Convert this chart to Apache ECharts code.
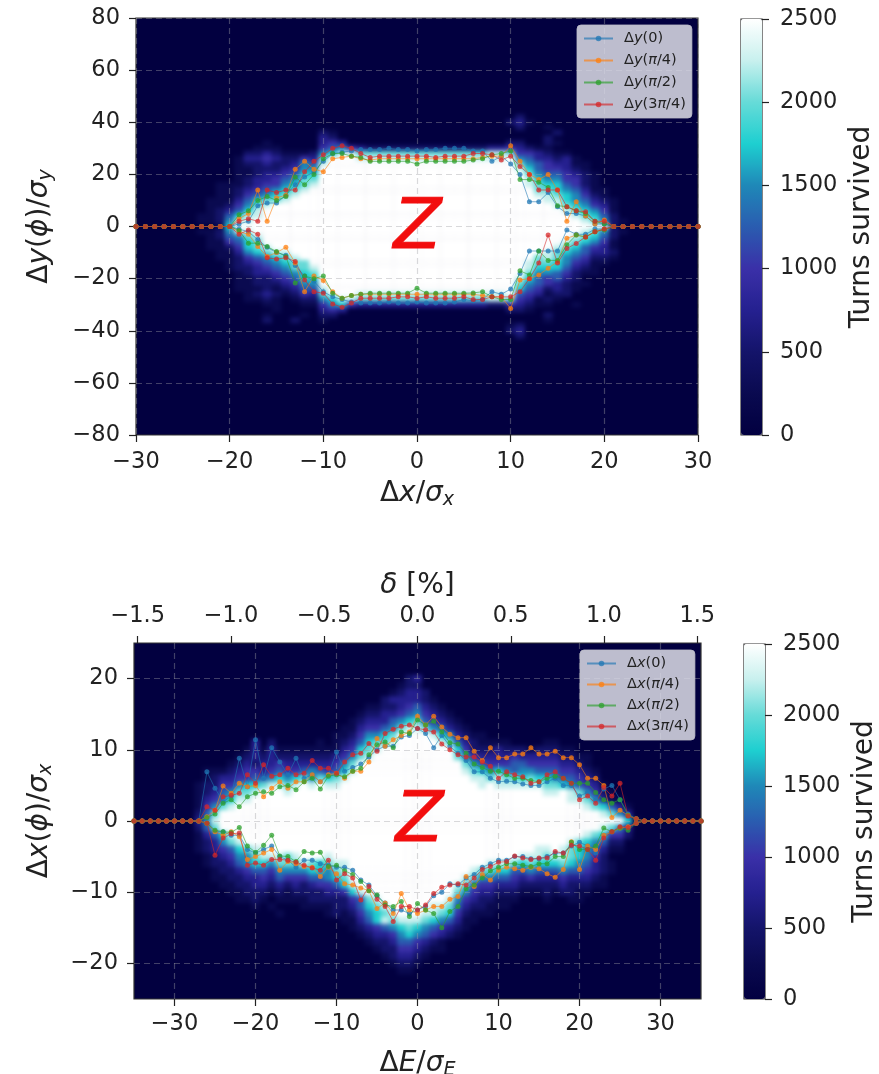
<!DOCTYPE html>
<html>
<head>
<meta charset="utf-8">
<title>Turns survived</title>
<script src="https://cdn.jsdelivr.net/npm/echarts@6/dist/echarts.min.js"></script>
<style>
  html, body { margin: 0; padding: 0; background: #fff; }
  #wrap { position: relative; width: 879px; height: 1074px; overflow: hidden; }
  #heat, #chart { position: absolute; left: 0; top: 0; width: 879px; height: 1074px; }
  /* imshow was interpolated, so the cells get blurred and cut back to the two plot boxes */
  #heat { filter: blur(2px); clip-path: path('M136 18H698V435H136Z M134 643H701V999H134Z'); }
</style>
</head>
<body>
<div id="wrap">
  <div id="heat"></div>
  <div id="chart"></div>
</div>
<script>
// colour scale, one stop every 250 turns
const turnColors = ['#020040', '#0a0a50', '#14146a', '#252090', '#3a30a8', '#2a5cb0', '#1f88b8', '#1ecfd0', '#66dbd8', '#c8f0ee', '#ffffff'];

// top panel: aperture lines, x = -30..30
const dyUp0 = [0,0,0,0,0,0,0,0,0,0, 0,1,2,8,9,9,12,16,19,21,25,28,28.5,29,29.5,29.5,29.5,30,29.5,29.5,29,29.5,29.5,30,30,30,29,29,25,27,24,20,9.5,9.5,13,7.6,5,5,4,1,1, 0,0,0,0,0,0,0,0,0,0];
const dyUp1 = [0,0,0,0,0,0,0,0,0,0, 0,3,5,14,2,11,12,22,25,22,21,26,26.5,27,26,25.5,26,26,26,26,26,26,26,26,26,26,26,26.5,27,27,31,25,20,18,20,14,2,9.5,4,1,2.5, 0,0,0,0,0,0,0,0,0,0];
const dyUp2 = [0,0,0,0,0,0,0,0,0,0, 0,4.5,6,10,11.5,10,11.5,19,16,20,26,28,28,27,26.5,25,25,25,25,25,24,25,25,25,25,25,25.5,26,27.5,28,29,18,18,17,15,8,7.6,6,5,2,1, 0,0,0,0,0,0,0,0,0,0];
const dyUp3 = [0,0,0,0,0,0,0,0,0,0, 0,2,3,2,14,13,14,14,21,25,27.5,30,31,30,28,26.5,27,27,27,27,27,27,26.5,27,27,27,28,28,27.5,25.5,27,23,20,14,14,14,7.6,6,5.7,2,2, 0,0,0,0,0,0,0,0,0,0];
const dyLow0 = [0,0,0,0,0,0,0,0,0,0, 0,-1,-2,-5,-8,-10,-11,-15,-19,-21,-25,-27,-28,-29,-29.4,-29.4,-29.4,-29,-29.4,-29.4,-29,-29.4,-29.4,-29.4,-29,-28,-28.5,-28,-25,-26,-24,-18,-9.4,-9.4,-9.4,-9.4,-1.3,-3,-3,-1,-1, 0,0,0,0,0,0,0,0,0,0];
const dyLow1 = [0,0,0,0,0,0,0,0,0,0, 0,-2,-3,-7.7,-11.5,-10,-8,-14,-25,-19,-20.7,-25,-27.5,-26.5,-26,-26,-26,-26,-26,-26,-26,-26,-26,-26,-26,-26,-26,-26.5,-27,-27,-31.5,-20.5,-20,-18.6,-16,-13.5,-4.5,-3.3,-4,-2,-1, 0,0,0,0,0,0,0,0,0,0];
const dyLow2 = [0,0,0,0,0,0,0,0,0,0, 0,-1.5,-6.4,-6.4,-7.7,-9.6,-11.5,-21.7,-19,-20,-19,-25.6,-27.5,-26.5,-26,-25.6,-25.6,-25.6,-25.6,-25.6,-23.7,-25.6,-25.6,-25.6,-25.6,-25.6,-25.5,-25,-27,-28,-28,-17,-18.6,-9.4,-13,-13,-7,-3.3,-4,-2,-1.3, 0,0,0,0,0,0,0,0,0,0];
const dyLow3 = [0,0,0,0,0,0,0,0,0,0, 0,-3,-1.3,-3,-12,-12.5,-12,-13.4,-20.5,-25,-25.6,-29.7,-31,-29.4,-27.5,-27.5,-27.5,-27.5,-27,-27,-27.5,-27,-27.5,-27.5,-27.5,-27,-28,-28,-27,-27,-27,-25,-20,-14,-3.3,-14,-8.4,-6.5,-4,-2,-1, 0,0,0,0,0,0,0,0,0,0];

// bottom panel: aperture lines, x = -35..35
const dxUp0 = [0,0,0,0,0,0,0,0,0, 6.9,4.6,2.7,3.5,8.8,4.8,11.4,6,10.3,8.3,6.5,8.8,6,6.5,5.5,6.5,9.7,7,7.5,8,9,10,10.5,10.5,11.8,12,13, 12.3,10.3,12,10.5,9.5,8.5,6.9,6.9,6,5.5,5.6,5.5,5.2,5,5,5.5,6,5,5,3.5,4,3,4.5,5,3,1,0.3, 0,0,0,0,0,0,0,0];
const dxUp1 = [0,0,0,0,0,0,0,0,0, 0.6,1.5,4.9,3.9,5.3,4.8,5,3.4,4.6,5.5,4.6,5.5,5.5,6.5,5.5,6.5,6.7,6,7,7,8.3,11.6,10.5,11.4,12,12.5,14.7, 13.5,14.7,13.2,12.2,11.7,11.7,9.8,8.5,10.3,8.9,8.9,9.4,9.4,10.3,9.4,9.4,9.8,8.9,8.9,7.9,6,6,5,0.5,1.5,0.8,0.3, 0,0,0,0,0,0,0,0];
const dxUp2 = [0,0,0,0,0,0,0,0,0, 0.5,1,2.5,3,2,3.4,3.9,4.1,3.9,4.8,5,4.4,5.5,6,4.5,6.3,6.5,6.2,7,7.4,9.3,10.7,11.1,10.3,12.5,12.3,14.2, 13.5,14,12.5,11,10.8,9.5,8,7.5,7,7,6.5,6,6,5.7,5.5,6,6.3,6,5.3,5.3,5.3,4,3,2.5,3,0.8,0.3, 0,0,0,0,0,0,0,0];
const dxUp3 = [0,0,0,0,0,0,0,0,0, 2,1.5,3.4,3.6,3.9,6.5,5.3,7.9,6.3,6.5,7.4,6.5,6.7,8.5,7.4,7.4,6.7,8.3,9.3,9.5,10.9,9.8,12.3,12.9,13.3,13.5,13, 12.8,12.5,10.8,10,9.3,9,9,8.3,7.7,6,6.9,6.5,6.2,5.3,5.5,6.5,6.9,6,5.3,3,3.5,2.5,4.7,3.5,5.3,0.7,0.3, 0,0,0,0,0,0,0,0];
const dxLow0 = [0,0,0,0,0,0,0,0,0, -0.3,-1.5,-1.5,-2,-2,-4,-4.5,-4,-3.5,-5,-5.5,-6.5,-5.5,-5.5,-6,-6.2,-6.5,-6.5,-6.9,-8.3,-9,-10.5,-11.5,-12.5,-12.5,-13,-12.5, -12,-10.5,-10,-8.8,-9,-8,-7.5,-6.5,-6,-5.5,-5.5,-5,-5,-5.3,-5.3,-5,-4.5,-4.5,-3.5,-3,-3.5,-4.5,-2,-1.5,-1,-1,-0.3, 0,0,0,0,0,0,0,0];
const dxLow1 = [0,0,0,0,0,0,0,0,0, -0.3,-1.5,-2,-1.5,-2.2,-5.4,-5,-4.5,-4,-6.9,-5.7,-6,-6.4,-6.5,-7.8,-6.5,-7.4,-8.8,-9,-9.4,-9.8,-12.3,-11.5,-13,-10.2,-12.5,-13, -12.5,-12,-12,-11,-10.6,-7.8,-9.2,-7.5,-8.3,-6.9,-6.5,-6.7,-6.9,-6.5,-6.7,-7.4,-7.9,-6.8,-2.9,-6.8,-3.5,-4,-2,-1.5,-1,-0.8,-0.3, 0,0,0,0,0,0,0,0];
const dxLow2 = [0,0,0,0,0,0,0,0,0, -0.3,-1.3,-1.5,-1.6,-0.9,-3.5,-4.4,-3.4,-2,-4.9,-5,-5.7,-4.3,-4.5,-4.4,-6.4,-6.2,-7,-7.5,-8.5,-9.8,-10.4,-11.8,-12,-11.3,-13.4,-11.6, -12.5,-13,-15,-12.7,-12,-9.5,-9,-8,-7,-6.5,-6,-6,-6.2,-6.4,-6,-6,-5,-5,-3,-4,-4,-3.5,-1,-1.5,-1,-1.3,-0.3, 0,0,0,0,0,0,0,0];
const dxLow3 = [0,0,0,0,0,0,0,0,0, -0.3,-4.8,-2.4,-1.8,-1.7,-6.2,-5.9,-6.2,-5.4,-5.4,-5.5,-5.8,-6.2,-6.6,-6.9,-5.5,-8.3,-7.4,-8,-11.1,-9.2,-11,-12,-14.1,-12,-12,-12.5, -11.8,-10.2,-9.3,-9,-8.8,-9,-8,-6.8,-6.4,-5.8,-5.7,-4.9,-5.2,-5.4,-5.2,-5.2,-4.3,-4.5,-3.4,-3.5,-4,-5.5,-2.4,-1.5,-0.8,-0.9,-0.3, 0,0,0,0,0,0,0,0];

// heat cells, one char per cell: level * 250 turns (a = 2500)
// top panel: columns x = -30..30, rows y = 44 down to -44 in steps of 2
const heatTop = [
  "0000000000 0000000000 0000000000 0000000000 0000000000 00000000000",
  "0000000000 0000000000 0000000000 0000000000 0200000000 00000000000",
  "0000000000 0000000000 0000000000 0000000000 2310000000 00000000000",
  "0000000000 0000000000 0000000000 0000000000 0200100000 00000000000",
  "0000000000 0000000000 2100000000 0000000000 0000020000 00000000000",
  "0000000000 0000000000 3200000000 0000000000 0000200000 00000000000",
  "0000000000 0000100000 3430000000 0000000000 2200210000 00000000000",
  "0000000000 0001110000 4564322222 2222222233 4321100000 00000000000",
  "0000000000 0022321112 6799888888 8888888899 8443211000 00000000000",
  "0000000000 0133432243 8aaa999999 9999999999 a653323100 00000000000",
  "0000000000 0122322365 9aaaaaaaaa aaaaaaaaaa a865433110 00000000000",
  "0000000000 0112223466 aaaaaaaaaa aaaaaaaaaa a975443210 00000000000",
  "0000000000 0112334577 aaaaaaaaaa aaaaaaaaaa aa86554321 00000000000",
  "0000000000 0123345688 aaaaaaaaaa aaaaaaaaaa aa97664421 00000000000",
  "0000000001 1123446789 aaaaaaaaaa aaaaaaaaaa aa98775421 00000000000",
  "0000000001 123456789a aaaaaaaaaa aaaaaaaaaa aaa8876531 10000000000",
  "0000000001 12456789aa aaaaaaaaaa aaaaaaaaaa aaa9987642 10000000000",
  "0000000011 1357889aaa aaaaaaaaaa aaaaaaaaaa aaaa997653 21000000000",
  "0000000011 24689aaaaa aaaaaaaaaa aaaaaaaaaa aaaaa98764 31000000000",
  "0000000012 3579aaaaaa aaaaaaaaaa aaaaaaaaaa aaaaaa9876 41000000000",
  "0000000112 5799aaaaaa aaaaaaaaaa aaaaaaaaaa aaaaaaa987 52000000000",
  "0000000112 699aaaaaaa aaaaaaaaaa aaaaaaaaaa aaaaaaaa98 62100000000",
  "0000000001 7aaaaaaaaa aaaaaaaaaa aaaaaaaaaa aaaaaaaaaa a2000000000",
  "0000000112 699aaaaaaa aaaaaaaaaa aaaaaaaaaa aaaaaaaa98 62100000000",
  "0000000012 5689aaaaaa aaaaaaaaaa aaaaaaaaaa aaaaaaa987 52000000000",
  "0000000011 4578aaaaaa aaaaaaaaaa aaaaaaaaaa aaaaaa9876 41000000000",
  "0000000011 24789aaaaa aaaaaaaaaa aaaaaaaaaa aaaaa98754 31000000000",
  "0000000001 1367899aaa aaaaaaaaaa aaaaaaaaaa aaaa987653 32000000000",
  "0000000001 12456789aa aaaaaaaaaa aaaaaaaaaa aaa8986542 21000000000",
  "0000000000 123456788a aaaaaaaaaa aaaaaaaaaa aa98876431 10000000000",
  "0000000000 1223456889 aaaaaaaaaa aaaaaaaaaa aa97775321 00000000000",
  "0000000000 0123345678 aaaaaaaaaa aaaaaaaaaa aa86654211 00000000000",
  "0000000000 0112234577 aaaaaaaaaa aaaaaaaaaa a975453200 00000000000",
  "0000000000 0112223466 aaaaaaaaaa aaaaaaaaaa a865432110 00000000000",
  "0000000000 0111212355 9aaaaaaaaa aaaaaaaaaa a754232100 00000000000",
  "0000000000 0012321243 8aaa999999 9999999999 a543122000 00000000000",
  "0000000000 0011210122 6799888888 8888888899 8431210000 00000000000",
  "0000000000 0000110011 4674333333 3333333322 4321100100 00000000000",
  "0000000000 0000010000 3430000000 0000000000 2210000000 00000000000",
  "0000000000 0000100010 2200000000 0000000000 0000200000 00000000000",
  "0000000000 0000200200 1000000000 0000000000 0000100000 00000000000",
  "0000000000 0000000000 0000000000 0000000000 1200000000 00000000000",
  "0000000000 0000000000 0000000000 0000000000 2300000000 00000000000",
  "0000000000 0000000000 0000000000 0000000000 0200000000 00000000000",
  "0000000000 0000000000 0000000000 0000000000 0000000000 00000000000"
];

// bottom panel: columns x = -35..35, rows y = 21 down to -21 in steps of 1
const heatBottom = [
  "0000000000 0000000000 0000000000 0000000000 0000000000 0000000000 00000000000",
  "0000000000 0000000000 0000000000 0000230000 0000000000 0000000000 00000000000",
  "0000000000 0000000000 0000000000 0001220000 0000000000 0000000000 00000000000",
  "0000000000 0000000000 0000000000 0012332000 0000000000 0000000000 00000000000",
  "0000000000 0000000000 0000000000 0233332100 0000000000 0000000000 00000000000",
  "0000000000 0000000000 0000000001 1223453210 0000000000 0000000000 00000000000",
  "0000000000 0000000000 0000000012 2334564321 0000000000 0000000000 00000000000",
  "0000000000 0000000000 0000000123 3356785432 1000000000 0000000000 00000000000",
  "0000000000 0000000000 0000001134 4568998653 2100000000 0000000000 00000000000",
  "0000000000 0000000000 0000011246 678aaaa976 3211000000 0000000000 00000000000",
  "0000000000 0000030200 0001012357 889aaaaa98 5321111000 0110000000 00000000000",
  "0000000000 0000131311 1111113478 9aaaaaaaaa 7422232221 2221100000 00000000000",
  "0000000000 0001232322 2222234689 aaaaaaaaaa 8643333433 3332211000 00000000000",
  "0000000000 0012323343 33333468aa aaaaaaaaaa a865444554 4443321000 00000000000",
  "0000000001 1123443454 45654579aa aaaaaaaaaa a987676566 5554432100 00000000000",
  "0000000001 2334455676 7868789aaa aaaaaaaaaa aa99898878 7765543200 00000000000",
  "0000000012 2446778998 9a9a99aaaa aaaaaaaaaa aaa9a99999 9887654310 00000000000",
  "0000000012 356889aaa9 aaaaaaaaaa aaaaaaaaaa aaaaaaaaaa a99a986421 00000000000",
  "0000000013 46799aaaaa aaaaaaaaaa aaaaaaaaaa aaaaaaaaaa aaaa998631 10000000000",
  "0000000014 689aaaaaaa aaaaaaaaaa aaaaaaaaaa aaaaaaaaaa aaaaaa9875 31000000000",
  "0000000025 8aaaaaaaaa aaaaaaaaaa aaaaaaaaaa aaaaaaaaaa aaaaaaaa98 63000000000",
  "0000000036 9aaaaaaaaa aaaaaaaaaa aaaaaaaaaa aaaaaaaaaa aaaaaaaaaa a7100000000",
  "0000000025 8aaaaaaaaa aaaaaaaaaa aaaaaaaaaa aaaaaaaaaa aaaaaaaa98 63000000000",
  "0000000013 579aaaaaaa aaaaaaaaaa aaaaaaaaaa aaaaaaaaaa aaaaaa9874 42000000000",
  "0000000012 3689aaaaaa aaaaaaaaaa aaaaaaaaaa aaaaaaaaaa aaaa987652 20000000000",
  "0000000012 3457899aaa aaaaaaaaaa aaaaaaaaaa aaaaaaaaaa 99a9876531 10000000000",
  "0000000001 2346689998 9aaa9aaaaa aaaaaaaaaa aaaaaaaa99 9899876420 00000000000",
  "0000000001 2235677688 8987899aaa aaaaaaaaaa aaaa999878 7778765321 00000000000",
  "0000000000 1223455466 6677689aaa aaaaaaaaaa aa98877556 5556554321 00000000000",
  "0000000000 1122334354 4455678aaa aaaaaaaaaa a986655434 3334333210 00000000000",
  "0000000000 0112233232 32344579aa aaaaaaaaaa 9854433322 2223222110 00000000000",
  "0000000000 0011222121 222233479a aaaaaaaaaa 8643322211 1212211000 00000000000",
  "0000000000 0001121011 1122222458 9aaaaaaaa9 6432211100 0100110000 00000000000",
  "0000000000 0000010100 0111122357 89aaaaa998 5322111000 0000000000 00000000000",
  "0000000000 0000000010 0000121246 789aaa9987 4211100000 0000000000 00000000000",
  "0000000000 0000000000 0000001135 7989998765 3110000000 0000000000 00000000000",
  "0000000000 0000000000 0000000123 4567876543 2100000000 0000000000 00000000000",
  "0000000000 0000000000 0000000012 3346765432 1000000000 0000000000 00000000000",
  "0000000000 0000000000 0000000001 2235543210 0000000000 0000000000 00000000000",
  "0000000000 0000000000 0000000000 1224432110 0000000000 0000000000 00000000000",
  "0000000000 0000000000 0000000000 0123321000 0000000000 0000000000 00000000000",
  "0000000000 0000000000 0000000000 0012210000 0000000000 0000000000 00000000000",
  "0000000000 0000000000 0000000000 0001100000 0000000000 0000000000 00000000000"
];

const FONT = '"DejaVu Sans", sans-serif';
const TEXT = '#222222';
const TICK_SIZE = 22.5;
const TITLE_SIZE = 28;
const PHASE_COLORS = ['#1f77b4', '#ff7f0e', '#2ca02c', '#d62728'];
const topNames = ['Δy(0)', 'Δy(π/4)', 'Δy(π/2)', 'Δy(3π/4)'];
const bottomNames = ['Δx(0)', 'Δx(π/4)', 'Δx(π/2)', 'Δx(3π/4)'];
const topBox = { left: 136, top: 18, width: 562, height: 417 };
const bottomBox = { left: 134, top: 643, width: 567, height: 356 };

function minusSign(v) {
  return String(v).replace('-', '\u2212');
}

// (x, y) pairs on a 1 sigma step
function toPoints(values, firstX) {
  return values.map(function (v, i) { return [firstX + i, v]; });
}

function cellsFrom(rows, rowCount) {
  const cells = [];
  rows.forEach(function (row, r) {
    row.replace(/ /g, '').split('').forEach(function (c, col) {
      const level = parseInt(c, 36);
      if (level > 0) cells.push([col, rowCount - 1 - r, level * 250]);
    });
  });
  return cells;
}

function indexLabels(n) {
  const out = [];
  for (let i = 0; i < n; i++) out.push(String(i));
  return out;
}

// heat layer ---------------------------------------------------------------
// grids stick out half a cell so cell centres land on the data coordinates
const topCols = 61, topRows = 81;      // full y range -80..80 at step 2
const botCols = 71, botRows = 51;      // full y range -25..25 at step 1
const topStepX = topBox.width / (topCols - 1), topStepY = topBox.height / (topRows - 1);
const botStepX = bottomBox.width / (botCols - 1), botStepY = bottomBox.height / (botRows - 1);

const topCells = cellsFrom(heatTop, heatTop.length).map(function (c) {
  return [c[0], c[1] + (topRows - heatTop.length) / 2, c[2]];
});
const botCells = cellsFrom(heatBottom, heatBottom.length).map(function (c) {
  return [c[0], c[1] + (botRows - heatBottom.length) / 2, c[2]];
});

const heat = echarts.init(document.getElementById('heat'));
heat.setOption({
  animation: false,
  backgroundColor: turnColors[0],
  grid: [
    { outerBoundsMode: 'none', left: topBox.left - topStepX / 2, top: topBox.top - topStepY / 2, width: topBox.width + topStepX, height: topBox.height + topStepY },
    { outerBoundsMode: 'none', left: bottomBox.left - botStepX / 2, top: bottomBox.top - botStepY / 2, width: bottomBox.width + botStepX, height: bottomBox.height + botStepY }
  ],
  xAxis: [
    { type: 'category', gridIndex: 0, show: false, data: indexLabels(topCols) },
    { type: 'category', gridIndex: 1, show: false, data: indexLabels(botCols) }
  ],
  yAxis: [
    { type: 'category', gridIndex: 0, show: false, data: indexLabels(topRows) },
    { type: 'category', gridIndex: 1, show: false, data: indexLabels(botRows) }
  ],
  visualMap: { show: false, min: 0, max: 2500, inRange: { color: turnColors } },
  series: [
    { type: 'heatmap', xAxisIndex: 0, yAxisIndex: 0, data: topCells },
    { type: 'heatmap', xAxisIndex: 1, yAxisIndex: 1, data: botCells }
  ]
});

// axes, lines, legends, colour bars ----------------------------------------
const titleRich = {
  n: { fontFamily: FONT, fontSize: TITLE_SIZE, color: TEXT },
  i: { fontFamily: FONT, fontSize: TITLE_SIZE, fontStyle: 'italic', color: TEXT },
  s: { fontFamily: FONT, fontSize: 19, fontStyle: 'italic', color: TEXT, padding: [14, 0, 0, 0] }
};
const legendRich = {
  g: { width: 6 },
  n: { fontFamily: FONT, fontSize: 14.5, color: '#222' },
  i: { fontFamily: FONT, fontSize: 14.5, fontStyle: 'italic', color: '#222' }
};

function legendLabel(name) {
  // Δy(3π/4) -> Δ, italic y, (3, italic π, /4)
  const m = name.match(/^Δ([xy])\((\d?)(π?)(.*)\)$/);
  return '{g|}{n|Δ}{i|' + m[1] + '}{n|(' + m[2] + '}' + (m[3] ? '{i|π}' : '') + '{n|' + m[4] + ')}';
}

function tickStyle(values) {
  return { show: true, length: 7, lineStyle: { color: TEXT, width: 1.2 }, customValues: values };
}

function labelStyle(values, formatter, margin) {
  return { color: TEXT, fontFamily: FONT, fontSize: TICK_SIZE, margin: margin, formatter: formatter || minusSign, customValues: values };
}

function valueAxis(extra) {
  return Object.assign({
    type: 'value',
    nameTextStyle: { fontFamily: FONT, fontSize: TITLE_SIZE, color: TEXT, rich: titleRich },
    axisLine: { show: false, onZero: false },
    axisTick: tickStyle(),
    axisLabel: labelStyle(undefined, null, 16),
    splitLine: { show: false }
  }, extra);
}

function gridDash() {
  return { show: true, lineStyle: { color: 'rgba(160,160,165,0.4)', type: [6, 4], width: 1.2 } };
}

function lineSeries(name, values, firstX, axisIndex, color) {
  return {
    name: name,
    type: 'line',
    xAxisIndex: axisIndex,
    yAxisIndex: axisIndex,
    data: toPoints(values, firstX),
    symbol: 'circle',
    symbolSize: 5,
    showSymbol: true,
    z: 5,
    lineStyle: { color: color, width: 0.9, opacity: 0.65 },
    itemStyle: { color: color, opacity: 0.75 }
  };
}

const series = [];
[dyUp0, dyUp1, dyUp2, dyUp3].forEach(function (v, i) { series.push(lineSeries(topNames[i], v, -30, 0, PHASE_COLORS[i])); });
[dyLow0, dyLow1, dyLow2, dyLow3].forEach(function (v, i) { series.push(lineSeries(topNames[i], v, -30, 0, PHASE_COLORS[i])); });
[dxUp0, dxUp1, dxUp2, dxUp3].forEach(function (v, i) { series.push(lineSeries(bottomNames[i], v, -35, 1, PHASE_COLORS[i])); });
[dxLow0, dxLow1, dxLow2, dxLow3].forEach(function (v, i) { series.push(lineSeries(bottomNames[i], v, -35, 1, PHASE_COLORS[i])); });

function legendFor(names, left, top, gap) {
  return {
    data: names,
    left: left,
    top: top,
    orient: 'vertical',
    align: 'left',
    selectedMode: false,
    itemWidth: 29,
    itemHeight: 7,
    itemGap: gap,
    padding: [6, 6, 6, 6],
    backgroundColor: 'rgba(222,222,232,0.85)',
    borderColor: 'rgba(190,190,200,0.8)',
    borderWidth: 1,
    borderRadius: 4,
    formatter: legendLabel,
    textStyle: { fontFamily: FONT, fontSize: 14.5, color: '#222', rich: legendRich }
  };
}

function colorBar(left, top, height) {
  return {
    show: true, min: 0, max: 2500, seriesIndex: [],
    left: left, top: top, itemWidth: 21, itemHeight: height,
    padding: 0, calculable: false, hoverLink: false, text: null,
    inRange: { color: turnColors }
  };
}

function bigZ(left, top) {
  return {
    type: 'text', left: left, top: top, z: 20,
    style: { text: 'Z', fill: '#f20d0d', stroke: '#f20d0d', lineWidth: 1, font: 'italic 70px "DejaVu Sans"' }
  };
}

function plotGrid(box) {
  return Object.assign({ show: true, outerBoundsMode: 'none', borderColor: '#333', borderWidth: 1.2, backgroundColor: 'transparent' }, box);
}

const barAxis = {
  min: 0, max: 2500, interval: 500, position: 'right',
  name: 'Turns survived', nameLocation: 'middle', nameRotate: 90, nameGap: 86,
  axisLabel: labelStyle(undefined, function (v) { return String(v); }, 18)
};

const chart = echarts.init(document.getElementById('chart'));
chart.setOption({
  animation: false,
  textStyle: { fontFamily: FONT },
  grid: [
    plotGrid(topBox),
    plotGrid(bottomBox),
    plotGrid({ left: 741, top: 19, width: 21, height: 416 }),
    plotGrid({ left: 744, top: 644, width: 21, height: 355 })
  ],
  xAxis: [
    valueAxis({ gridIndex: 0, min: -30, max: 30, interval: 10, splitLine: gridDash(),
      name: '{n|Δ}{i|x}{n|/}{i|σ}{s|x}', nameLocation: 'middle', nameGap: 42 }),
    valueAxis({ gridIndex: 1, min: -35, max: 35,
      axisTick: tickStyle([-30, -20, -10, 0, 10, 20, 30]),
      axisLabel: labelStyle([-30, -20, -10, 0, 10, 20, 30], null, 14),
      splitLine: gridDash(),
      name: '{n|Δ}{i|E}{n|/}{i|σ}{s|E}', nameLocation: 'middle', nameGap: 48 }),
    valueAxis({ gridIndex: 1, min: -1.52, max: 1.52, position: 'top',
      axisTick: tickStyle([-1.5, -1, -0.5, 0, 0.5, 1, 1.5]),
      axisLabel: labelStyle([-1.5, -1, -0.5, 0, 0.5, 1, 1.5], function (v) { return minusSign(v.toFixed(1)); }, 15),
      name: '{i|δ}{n| [%]}', nameLocation: 'middle', nameGap: 43 }),
    { type: 'value', gridIndex: 2, show: false, min: 0, max: 1 },
    { type: 'value', gridIndex: 3, show: false, min: 0, max: 1 }
  ],
  yAxis: [
    valueAxis({ gridIndex: 0, min: -80, max: 80, interval: 20, splitLine: gridDash(),
      name: '{n|Δ}{i|y}{n|(}{i|ϕ}{n|)/}{i|σ}{s|y}', nameLocation: 'middle', nameRotate: 90, nameGap: 80 }),
    valueAxis({ gridIndex: 1, min: -25, max: 25,
      axisTick: tickStyle([-20, -10, 0, 10, 20]),
      axisLabel: labelStyle([-20, -10, 0, 10, 20], null, 16),
      splitLine: gridDash(),
      name: '{n|Δ}{i|x}{n|(}{i|ϕ}{n|)/}{i|σ}{s|x}', nameLocation: 'middle', nameRotate: 90, nameGap: 78 }),
    valueAxis(Object.assign({ gridIndex: 2 }, barAxis)),
    valueAxis(Object.assign({ gridIndex: 3 }, barAxis))
  ],
  legend: [legendFor(topNames, 577, 25, 7), legendFor(bottomNames, 580, 650, 6)],
  visualMap: [colorBar(741, 19, 416), colorBar(744, 644, 355)],
  graphic: [bigZ(393, 194), bigZ(395, 787)],
  series: series
});
</script>
</body>
</html>
